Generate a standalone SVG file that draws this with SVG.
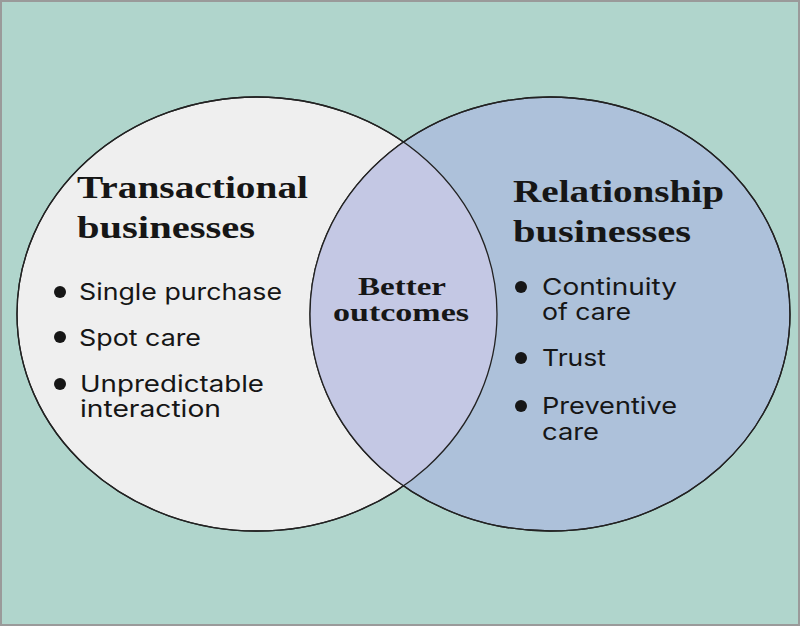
<svg xmlns="http://www.w3.org/2000/svg" width="800" height="626" viewBox="0 0 800 626">
<defs>
<style>
.h{font-family:"Liberation Serif",serif;font-weight:bold;font-size:32px;fill:#161616}
.m{font-family:"Liberation Serif",serif;font-weight:bold;font-size:25px;fill:#161616}
.b{font-family:"Inter","Liberation Sans",sans-serif;font-size:23px;fill:#161616}
.c{stroke:#222;stroke-width:1.3}
</style>
<clipPath id="cl"><ellipse cx="257" cy="314" rx="240" ry="217"/></clipPath>
</defs>
<rect x="1" y="1" width="798" height="624" fill="#b0d5cc" stroke="#9a9a9a" stroke-width="2"/>
<g id="left"><ellipse class="c" cx="257" cy="314" rx="240" ry="217" fill="#efefef"/></g>
<g id="right"><ellipse class="c" cx="550" cy="314" rx="240" ry="217" fill="#adc1da"/></g>
<g id="overlap"><ellipse cx="550" cy="314" rx="240" ry="217" fill="#c4c8e4" clip-path="url(#cl)"/>
<ellipse cx="257" cy="314" rx="240" ry="217" fill="none" class="c"/>
<ellipse cx="550" cy="314" rx="240" ry="217" fill="none" class="c"/>
<text class="m" x="402" y="295" text-anchor="middle" textLength="88" lengthAdjust="spacingAndGlyphs">Better</text>
<text class="m" x="401" y="321" text-anchor="middle" textLength="136" lengthAdjust="spacingAndGlyphs">outcomes</text></g>
<g id="left-text">
<text class="h" x="77" y="198" textLength="231" lengthAdjust="spacingAndGlyphs">Transactional</text>
<text class="h" x="77" y="238" textLength="178" lengthAdjust="spacingAndGlyphs">businesses</text>
<circle cx="60" cy="292" r="6" fill="#161616"/><text class="b" x="79" y="300" textLength="203" lengthAdjust="spacingAndGlyphs">Single purchase</text>
<circle cx="60" cy="337" r="6" fill="#161616"/><text class="b" x="79" y="346" textLength="122" lengthAdjust="spacingAndGlyphs">Spot care</text>
<circle cx="60" cy="384" r="6" fill="#161616"/><text class="b" x="80" y="392" textLength="184" lengthAdjust="spacingAndGlyphs">Unpredictable</text>
<text class="b" x="80" y="417" textLength="141" lengthAdjust="spacingAndGlyphs">interaction</text>
</g>
<g id="right-text">
<text class="h" x="513" y="202" textLength="211" lengthAdjust="spacingAndGlyphs">Relationship</text>
<text class="h" x="513" y="242" textLength="178" lengthAdjust="spacingAndGlyphs">businesses</text>
<circle cx="521" cy="287" r="6" fill="#161616"/><text class="b" x="542" y="295" textLength="135" lengthAdjust="spacingAndGlyphs">Continuity</text>
<text class="b" x="542" y="320" textLength="89" lengthAdjust="spacingAndGlyphs">of care</text>
<circle cx="521" cy="358" r="6" fill="#161616"/><text class="b" x="542" y="366" textLength="64" lengthAdjust="spacingAndGlyphs">Trust</text>
<circle cx="521" cy="406" r="6" fill="#161616"/><text class="b" x="542" y="414" textLength="135" lengthAdjust="spacingAndGlyphs">Preventive</text>
<text class="b" x="542" y="440" textLength="57" lengthAdjust="spacingAndGlyphs">care</text>
</g>
</svg>
